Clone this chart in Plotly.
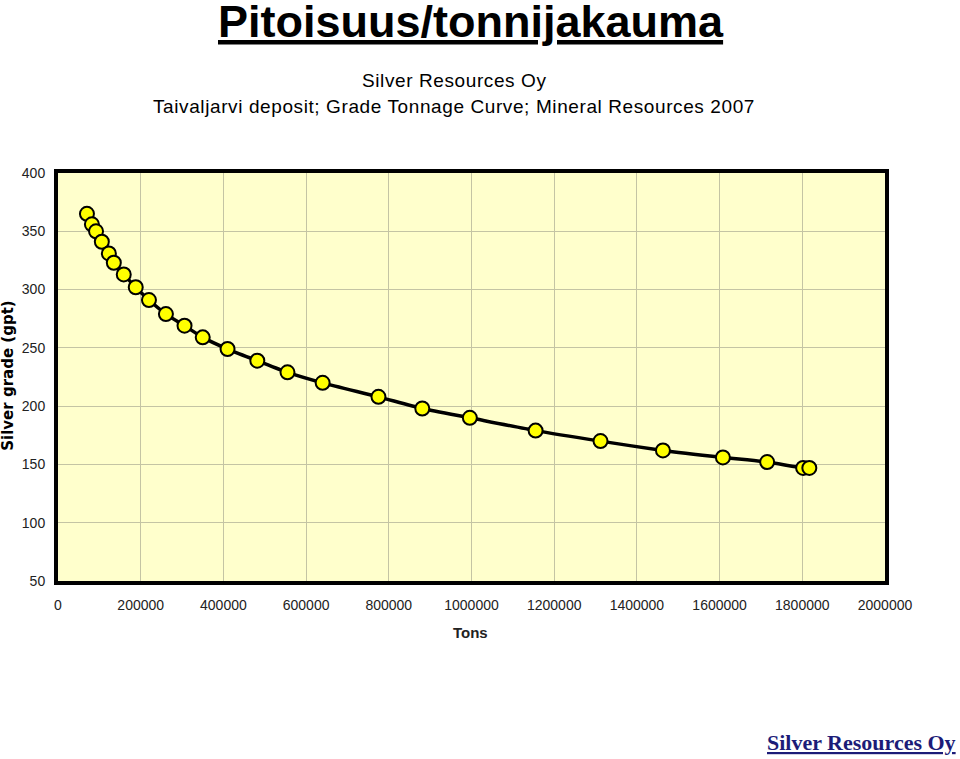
import plotly.graph_objects as go

# Grade-tonnage curve values
tons = [70000, 82000, 92000, 106000, 123000, 135000, 159000, 188000, 220000,
        261000, 306000, 350000, 410000, 482000, 555000, 640000, 775000, 881000,
        996000, 1155000, 1312000, 1463000, 1608000, 1715000, 1802000, 1817000]
grade = [365, 356, 350, 341, 331, 323, 313, 302, 291, 279, 269, 259, 249,
         239, 229, 220, 208, 198, 190, 179, 170, 162, 156, 152, 147, 147]

x_ticks = list(range(0, 2000001, 200000))
y_ticks = list(range(50, 401, 50))

sans = "Liberation Sans, Arial, sans-serif"
tick_font = dict(family=sans, size=14, color="#222222")

fig = go.Figure()
fig.add_trace(go.Scatter(
    x=tons, y=grade, mode="lines+markers",
    line=dict(color="black", width=3.5, shape="spline", smoothing=0.6),
    marker=dict(size=14, color="#FFFF00", line=dict(color="black", width=2)),
    showlegend=False,
))

fig.update_xaxes(range=[0, 2000000], tickvals=x_ticks, tickformat="d",
                 showgrid=True, gridcolor="#C4C4A4", gridwidth=1,
                 showline=True, linecolor="black", linewidth=4, mirror=True,
                 zeroline=False, ticks="", tickfont=tick_font,
                 ticklabelstandoff=8, automargin=False)
fig.update_yaxes(range=[50, 400], tickvals=y_ticks,
                 showgrid=True, gridcolor="#C4C4A4", gridwidth=1,
                 showline=True, linecolor="black", linewidth=4, mirror=True,
                 zeroline=False, ticks="", tickfont=tick_font,
                 ticklabelstandoff=6, automargin=False)

def note(text, x, y, size, family=sans, color="black", **kw):
    fig.add_annotation(text=text, xref="paper", yref="paper", x=x, y=y,
                       xanchor=kw.pop("xanchor", "center"), yanchor="middle",
                       showarrow=False, font=dict(family=family, size=size, color=color), **kw)

note("<u><b>Pitoisuus/tonnijakauma</b></u>", 0.4994, 1.372, 45)
note('<span style="letter-spacing:0.6px">Silver Resources Oy</span>', 0.48, 1.2255, 19)
note('<span style="letter-spacing:0.6px">Taivaljarvi deposit; Grade Tonnage Curve; '
     'Mineral Resources 2007</span>', 0.479, 1.162, 19)
note("<b>Tons</b>", 0.499, -0.125, 15, color="#222222")
note("<b>Silver grade (gpt)</b>", -0.0605, 0.503, 15,
     family="DejaVu Sans, sans-serif", textangle=-90)
note("<u><b>Silver Resources Oy</b></u>", 1.0883, -0.397, 22,
     family="Liberation Serif, Times New Roman, serif", color="#1C1C78", xanchor="right")

fig.update_layout(
    width=960, height=759,
    margin=dict(l=58, r=75, t=173, b=178),
    paper_bgcolor="white", plot_bgcolor="#FFFFCC",
)

# drop the default 8px body margin so the figure fills the window
fig.write_html("out.html", config={"displayModeBar": False},
               post_script="document.body.style.margin='0';")
